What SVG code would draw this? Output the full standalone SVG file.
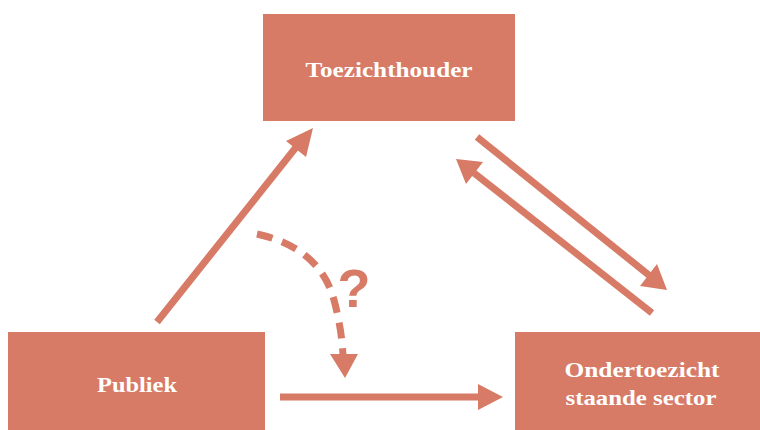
<svg xmlns="http://www.w3.org/2000/svg" width="760" height="430" viewBox="0 0 760 430">
<style>
.box{fill:#D77A66}
.lbl{font-family:"Liberation Serif","DejaVu Serif",serif;font-weight:bold;font-size:22px;fill:#FFFFFF;text-anchor:middle}
.ln{stroke:#D77A66;stroke-width:7;fill:none}
.dash{stroke:#D77A66;stroke-width:7;fill:none;stroke-dasharray:16 10}
.head{fill:#D77A66}
</style>
<rect width="760" height="430" fill="#FFFFFF"/>
<g id="toezichthouder">
<rect class="box" x="263" y="14" width="252" height="107"/>
<text class="lbl" x="389" y="77" textLength="167" lengthAdjust="spacingAndGlyphs">Toezichthouder</text>
</g>
<g id="publiek">
<rect class="box" x="8" y="332" width="257" height="98"/>
<text class="lbl" x="137" y="392" textLength="80" lengthAdjust="spacingAndGlyphs">Publiek</text>
</g>
<g id="ondertoezicht">
<rect class="box" x="515" y="332" width="245" height="98"/>
<text class="lbl" x="642" y="377" textLength="155" lengthAdjust="spacingAndGlyphs">Ondertoezicht</text>
<text class="lbl" x="641" y="405" textLength="151" lengthAdjust="spacingAndGlyphs">staande sector</text>
</g>
<g id="connectors">
<line class="ln" x1="157" y1="322" x2="297" y2="146"/>
<path class="head" d="M313,128 L306,157 L286,141 Z"/>
<line class="ln" x1="280" y1="397" x2="480" y2="397"/>
<path class="head" d="M503,397 L478,384 L478,410 Z"/>
<line class="ln" x1="477" y1="137" x2="650" y2="276"/>
<path class="head" d="M667,290 L640,286 L657,264 Z"/>
<line class="ln" x1="652" y1="313" x2="474" y2="173"/>
<path class="head" d="M456,159 L483,162 L466,184 Z"/>
<path class="dash" d="M257,234 Q320,248 334,300 Q342,330 343,356"/>
<path class="head" d="M345,378 L330,354 L358,354 Z"/>
<text x="354" y="307" font-family="Liberation Sans, DejaVu Sans, sans-serif" font-weight="bold" font-size="54" fill="#D77A66" text-anchor="middle">?</text>
</g>
</svg>
